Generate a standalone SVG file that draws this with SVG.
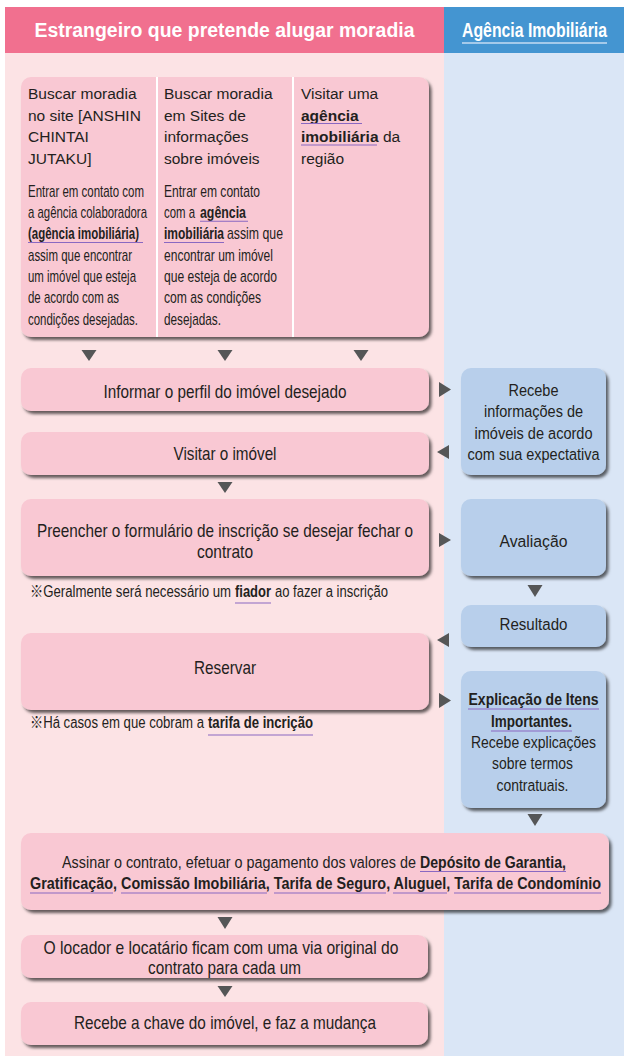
<svg xmlns="http://www.w3.org/2000/svg" width="624" height="1064" viewBox="0 0 624 1064">
<defs>
<filter id="sh" x="-10%" y="-10%" width="125%" height="140%">
<feDropShadow dx="2.5" dy="3" stdDeviation="1.6" flood-color="#000" flood-opacity="0.6"/>
</filter>
<style>
.pk{fill:#f9c8d3;filter:url(#sh)}
.bl{fill:#b8cfeb;filter:url(#sh)}
text{font-family:"Liberation Sans",Arial,"Noto Sans CJK JP",sans-serif;fill:#231f20}
.p{font-size:15.5px}
.c{font-size:16px}
.m{font-size:18px;text-anchor:middle}
.a{font-size:17px}
.b17{font-size:17px;text-anchor:middle}
.s{font-size:16px}
.h{fill:#fff;font-weight:bold;font-size:21px;text-anchor:middle}
.bd{font-weight:bold}
.ul{stroke:#8a68c2;stroke-width:1.1}
.tri{fill:#555657}
</style>
</defs>

<!-- backgrounds -->
<rect x="5" y="53" width="439" height="1003" fill="#fce3e5"/>
<rect x="444" y="53" width="180" height="1003" fill="#dae6f6"/>
<g id="header-left">
<rect x="5" y="7" width="439" height="46" fill="#f1708f"/>
<text class="h" transform="translate(224.5,37) scale(0.925,1)" textLength="410.8" lengthAdjust="spacingAndGlyphs">Estrangeiro que pretende alugar moradia</text>
</g>
<g id="header-right">
<rect x="444" y="7" width="180" height="46" fill="#4495d1"/>
<text class="h" transform="translate(534.5,37) scale(0.76,1)" textLength="190.8" lengthAdjust="spacingAndGlyphs">Agência Imobiliária</text>
<line x1="462" y1="43" x2="607" y2="43" stroke="#c4dcf2" stroke-width="1.3"/>
</g>

<!-- search options -->
<g id="search-options">
<rect class="pk" x="21" y="77" width="408" height="260" rx="10"/>
<line x1="157" y1="77" x2="157" y2="337" stroke="#fff" stroke-width="2"/>
<line x1="293" y1="77" x2="293" y2="337" stroke="#fff" stroke-width="2"/>
<text class="p" x="28" y="99">Buscar moradia</text>
<text class="p" x="28" y="120.5">no site [ANSHIN</text>
<text class="p" x="28" y="142">CHINTAI</text>
<text class="p" x="28" y="163.5">JUTAKU]</text>
<text class="c" transform="translate(28,196.5) scale(0.7,1)" textLength="165.7" lengthAdjust="spacingAndGlyphs">Entrar em contato com</text>
<text class="c" transform="translate(28,217.8) scale(0.7,1)" textLength="170" lengthAdjust="spacingAndGlyphs">a agência colaboradora</text>
<text class="c bd" transform="translate(28,239.2) scale(0.7,1)" textLength="158.6" lengthAdjust="spacingAndGlyphs">(agência imobiliária)</text>
<text class="c" transform="translate(28,260.5) scale(0.7,1)" textLength="148.6" lengthAdjust="spacingAndGlyphs">assim que encontrar</text>
<text class="c" transform="translate(28,281.8) scale(0.7,1)" textLength="154.3" lengthAdjust="spacingAndGlyphs">um imóvel que esteja</text>
<text class="c" transform="translate(28,303.2) scale(0.7,1)" textLength="130" lengthAdjust="spacingAndGlyphs">de acordo com as</text>
<text class="c" transform="translate(28,324.5) scale(0.7,1)" textLength="157.1" lengthAdjust="spacingAndGlyphs">condições desejadas.</text>
<line class="ul" x1="28" y1="242.5" x2="143" y2="242.5"/>

<text class="p" x="164" y="99">Buscar moradia</text>
<text class="p" x="164" y="120.5">em Sites de</text>
<text class="p" x="164" y="142">informações</text>
<text class="p" x="164" y="163.5">sobre imóveis</text>
<text class="c" transform="translate(164,196.5) scale(0.7,1)" textLength="137.1" lengthAdjust="spacingAndGlyphs">Entrar em contato</text>
<text class="c" transform="translate(164,217.8) scale(0.7,1)" textLength="44.3" lengthAdjust="spacingAndGlyphs">com a</text>
<text class="c bd" transform="translate(200,217.8) scale(0.7,1)" textLength="65.7" lengthAdjust="spacingAndGlyphs">agência</text>
<text class="c bd" transform="translate(164,239.2) scale(0.7,1)" textLength="85.7" lengthAdjust="spacingAndGlyphs">imobiliária</text>
<text class="c" transform="translate(227,239.2) scale(0.7,1)" textLength="80" lengthAdjust="spacingAndGlyphs">assim que</text>
<text class="c" transform="translate(164,260.5) scale(0.7,1)" textLength="155.7" lengthAdjust="spacingAndGlyphs">encontrar um imóvel</text>
<text class="c" transform="translate(164,281.8) scale(0.7,1)" textLength="161.4" lengthAdjust="spacingAndGlyphs">que esteja de acordo</text>
<text class="c" transform="translate(164,303.2) scale(0.7,1)" textLength="138.6" lengthAdjust="spacingAndGlyphs">com as condições</text>
<text class="c" transform="translate(164,324.5) scale(0.7,1)" textLength="81.4" lengthAdjust="spacingAndGlyphs">desejadas.</text>
<line class="ul" x1="200" y1="221.3" x2="248" y2="221.3"/>
<line class="ul" x1="164" y1="242.5" x2="224" y2="242.5"/>

<text class="p" x="301" y="99">Visitar uma</text>
<text class="p bd" x="301" y="120.5">agência</text>
<text class="p bd" x="301" y="142">imobiliária</text>
<text class="p" x="383" y="142">da</text>
<text class="p" x="301" y="163.5">região</text>
<line class="ul" x1="301" y1="123.5" x2="362" y2="123.5"/>
<line class="ul" x1="301" y1="145" x2="377" y2="145"/>
</g>

<g id="inform-profile">
<rect class="pk" x="21" y="368" width="408" height="43" rx="10"/>
<text class="m" transform="translate(225,398) scale(0.85,1)" textLength="285.9" lengthAdjust="spacingAndGlyphs">Informar o perfil do imóvel desejado</text>
</g>
<g id="visit-property">
<rect class="pk" x="21" y="432" width="408" height="43" rx="10"/>
<text class="m" transform="translate(225,460) scale(0.85,1)" textLength="121.2" lengthAdjust="spacingAndGlyphs">Visitar o imóvel</text>
</g>
<g id="fill-form">
<rect class="pk" x="21" y="499" width="408" height="77" rx="10"/>
<text class="m" transform="translate(225,537) scale(0.85,1)" textLength="442.4" lengthAdjust="spacingAndGlyphs">Preencher o formulário de inscrição se desejar fechar o</text>
<text class="m" transform="translate(225,558) scale(0.85,1)" textLength="65.9" lengthAdjust="spacingAndGlyphs">contrato</text>
</g>
<g id="note-guarantor">
<text class="s" transform="translate(30,597) scale(0.82,1)" textLength="245.1" lengthAdjust="spacingAndGlyphs">※Geralmente será necessário um</text>
<text class="s bd" transform="translate(235,597) scale(0.82,1)" textLength="43.9" lengthAdjust="spacingAndGlyphs">fiador</text>
<text class="s" transform="translate(275,597) scale(0.82,1)" textLength="137.8" lengthAdjust="spacingAndGlyphs">ao fazer a inscrição</text>
<line class="ul" x1="235" y1="603" x2="271" y2="603"/>
</g>
<g id="reserve">
<rect class="pk" x="21" y="633" width="408" height="77" rx="10"/>
<text class="m" transform="translate(225,674) scale(0.85,1)" textLength="72.9" lengthAdjust="spacingAndGlyphs">Reservar</text>
</g>
<g id="note-fee">
<text class="s" transform="translate(30,728) scale(0.82,1)" textLength="212.2" lengthAdjust="spacingAndGlyphs">※Há casos em que cobram a</text>
<text class="s bd" transform="translate(208,728) scale(0.82,1)" textLength="128" lengthAdjust="spacingAndGlyphs">tarifa de incrição</text>
<line class="ul" x1="208" y1="735" x2="313" y2="735"/>
</g>
<g id="sign-contract">
<rect class="pk" x="21" y="833" width="588" height="77" rx="10"/>
<text class="a" transform="translate(62,868) scale(0.84,1)" textLength="421.4" lengthAdjust="spacingAndGlyphs">Assinar o contrato, efetuar o pagamento dos valores de</text>
<text class="a bd" transform="translate(420,868) scale(0.84,1)" textLength="173.8" lengthAdjust="spacingAndGlyphs">Depósito de Garantia,</text>
<text class="b17 bd" transform="translate(315.5,888.5) scale(0.84,1)" textLength="679.8" lengthAdjust="spacingAndGlyphs">Gratificação, Comissão Imobiliária, Tarifa de Seguro, Aluguel, Tarifa de Condomínio</text>
<line class="ul" x1="420" y1="871.5" x2="566" y2="871.5"/>
<line class="ul" x1="30" y1="893" x2="113" y2="893"/>
<line class="ul" x1="121" y1="893" x2="267" y2="893"/>
<line class="ul" x1="274" y1="893" x2="386" y2="893"/>
<line class="ul" x1="393" y1="893" x2="447" y2="893"/>
<line class="ul" x1="454" y1="893" x2="601" y2="893"/>
</g>
<g id="original-copy">
<rect class="pk" x="21" y="935" width="407" height="43" rx="10"/>
<text class="m" transform="translate(221,954) scale(0.85,1)" textLength="417.6" lengthAdjust="spacingAndGlyphs">O locador e locatário ficam com uma via original do</text>
<text class="m" transform="translate(224.5,974) scale(0.85,1)" textLength="180" lengthAdjust="spacingAndGlyphs">contrato para cada um</text>
</g>
<g id="receive-key">
<rect class="pk" x="21" y="1002" width="407" height="43" rx="10"/>
<text class="m" transform="translate(225,1029) scale(0.85,1)" textLength="355.3" lengthAdjust="spacingAndGlyphs">Recebe a chave do imóvel, e faz a mudança</text>
</g>

<g id="agency-info">
<rect class="bl" x="461" y="368" width="145" height="107" rx="10"/>
<text class="b17" transform="translate(533.5,396) scale(0.83,1)" textLength="60.2" lengthAdjust="spacingAndGlyphs">Recebe</text>
<text class="b17" transform="translate(533.5,417.3) scale(0.83,1)" textLength="119.3" lengthAdjust="spacingAndGlyphs">informações de</text>
<text class="b17" transform="translate(533.5,438.6) scale(0.83,1)" textLength="142.2" lengthAdjust="spacingAndGlyphs">imóveis de acordo</text>
<text class="b17" transform="translate(533.5,460) scale(0.83,1)" textLength="159" lengthAdjust="spacingAndGlyphs">com sua expectativa</text>
</g>
<g id="agency-evaluation">
<rect class="bl" x="461" y="499" width="145" height="77" rx="10"/>
<text class="b17" transform="translate(533.5,547) scale(0.83,1)" textLength="81.9" lengthAdjust="spacingAndGlyphs">Avaliação</text>
</g>
<g id="agency-result">
<rect class="bl" x="461" y="605" width="145" height="42" rx="10"/>
<text class="b17" transform="translate(533.5,630) scale(0.83,1)" textLength="81.9" lengthAdjust="spacingAndGlyphs">Resultado</text>
</g>
<g id="agency-explanation">
<rect class="bl" x="461" y="671" width="145" height="137" rx="10"/>
<text class="b17 bd" transform="translate(533.5,705) scale(0.83,1)" textLength="156.6" lengthAdjust="spacingAndGlyphs">Explicação de Itens</text>
<text class="b17 bd" transform="translate(531.5,726.5) scale(0.83,1)" textLength="97.6" lengthAdjust="spacingAndGlyphs">Importantes.</text>
<text class="b17" transform="translate(533.5,748) scale(0.83,1)" textLength="150.6" lengthAdjust="spacingAndGlyphs">Recebe explicações</text>
<text class="b17" transform="translate(532.5,769.3) scale(0.83,1)" textLength="97.6" lengthAdjust="spacingAndGlyphs">sobre termos</text>
<text class="b17" transform="translate(532.5,790.6) scale(0.83,1)" textLength="86.7" lengthAdjust="spacingAndGlyphs">contratuais.</text>
<line class="ul" x1="468" y1="709" x2="599" y2="709"/>
<line class="ul" x1="491" y1="731" x2="572" y2="731"/>
</g>

<g id="connectors">
<path class="tri" d="M81.5 350H96.5L89 361Z"/>
<path class="tri" d="M217.5 350H232.5L225 361Z"/>
<path class="tri" d="M353.5 350H368.5L361 361Z"/>
<path class="tri" d="M439 382L451 389.5L439 397Z"/>
<path class="tri" d="M449 445L437 452L449 459Z"/>
<path class="tri" d="M217.5 482H232.5L225 493Z"/>
<path class="tri" d="M439 533L451 540L439 547Z"/>
<path class="tri" d="M527.5 585H542.5L535 597Z"/>
<path class="tri" d="M449 633L437 640L449 647Z"/>
<path class="tri" d="M439 693L451 700.5L439 708Z"/>
<path class="tri" d="M527.5 814H542.5L535 826Z"/>
<path class="tri" d="M217.5 917H232.5L225 929Z"/>
<path class="tri" d="M217.5 986H232.5L225 997Z"/>
</g>
</svg>
